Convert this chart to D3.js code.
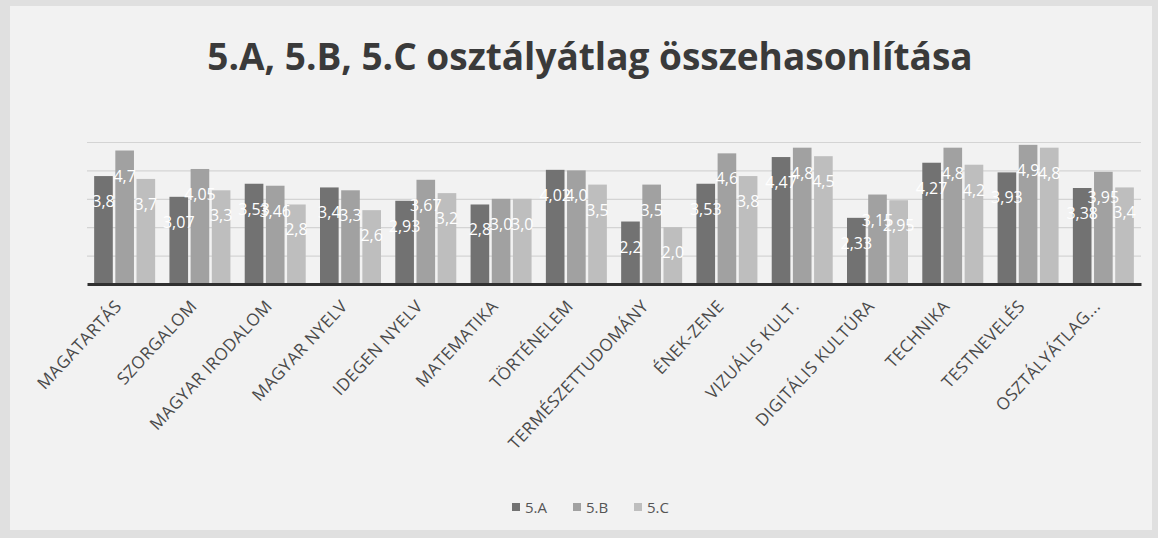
<!DOCTYPE html>
<html>
  <head>
    <meta charset="utf-8">
    <title>5.A, 5.B, 5.C osztályátlag összehasonlítása</title>
    <script src="https://d3js.org/d3.v7.min.js"></script>
    <style>
      body { margin: 0; background: #e0e0e0; }
      svg { display: block; }
      text { font-family: "Open Sans", "Noto Sans", sans-serif; }
    </style>
  </head>
  <body>
    <svg></svg>
    <script>
      // data
      const subjects = ['MAGATARTÁS', 'SZORGALOM', 'MAGYAR IRODALOM', 'MAGYAR NYELV', 'IDEGEN NYELV',
        'MATEMATIKA', 'TÖRTÉNELEM', 'TERMÉSZETTUDOMÁNY', 'ÉNEK-ZENE', 'VIZUÁLIS KULT.',
        'DIGITÁLIS KULTÚRA', 'TECHNIKA', 'TESTNEVELÉS', 'OSZTÁLYÁTLAG...'];
      const classes = ['5.A', '5.B', '5.C'];
      const avg5A = [3.8, 3.07, 3.53, 3.4, 2.93, 2.8, 4.02, 2.2, 3.53, 4.47, 2.33, 4.27, 3.93, 3.38];
      const avg5B = [4.7, 4.05, 3.46, 3.3, 3.67, 3.0, 4.0, 3.5, 4.6, 4.8, 3.15, 4.8, 4.9, 3.95];
      const avg5C = [3.7, 3.3, 2.8, 2.6, 3.2, 3.0, 3.5, 2.0, 3.8, 4.5, 2.95, 4.2, 4.8, 3.4];
      const yTicks = [1, 2, 3, 4, 5];
      const title = '5.A, 5.B, 5.C osztályátlag összehasonlítása';

      const series = [avg5A, avg5B, avg5C];
      const colors = ['#727272', '#a1a1a1', '#bebebe'];

      const width = 1158, height = 538;
      const svg = d3.select('svg').attr('width', width).attr('height', height);

      // scanned page look
      svg.append('rect').attr('width', width).attr('height', height).attr('fill', '#e0e0e0');
      svg.append('rect')
        .attr('x', 10).attr('y', 6).attr('width', width - 16).attr('height', height - 14)
        .attr('fill', '#f2f2f2');

      const margin = { top: 142, right: 17, bottom: 254, left: 87 };
      const innerWidth = width - margin.left - margin.right;
      const innerHeight = height - margin.top - margin.bottom;

      const g = svg.append('g')
        .attr('transform', `translate(${margin.left},${margin.top})`);

      const x0 = d3.scaleBand()
        .domain(subjects)
        .range([0, innerWidth])
        .paddingInner(0.19)
        .paddingOuter(0.095);

      const x1 = d3.scaleBand()
        .domain(classes)
        .range([0, x0.bandwidth()])
        .paddingInner(0.12);

      const y = d3.scaleLinear()
        .domain([0, 5])
        .range([innerHeight, 0]);

      // gridlines
      const yAxis = d3.axisLeft(y).tickValues(yTicks).tickSize(-innerWidth).tickFormat('');
      const yAxisG = g.append('g').call(yAxis);
      yAxisG.select('.domain').remove();
      yAxisG.selectAll('.tick line').attr('stroke', '#d4d4d4').attr('stroke-width', 1.2);

      const fmt = v => {
        const oneDec = Math.abs(v * 10 - Math.round(v * 10)) < 1e-9;
        return (oneDec ? v.toFixed(1) : v.toFixed(2)).replace('.', ',');
      };

      const rows = subjects.map((s, i) => ({
        subject: s,
        values: classes.map((c, k) => ({ cls: c, k: k, value: series[k][i] }))
      }));

      const groups = g.selectAll('.group').data(rows)
        .enter().append('g')
          .attr('class', 'group')
          .attr('transform', d => `translate(${x0(d.subject)},0)`);

      groups.selectAll('rect').data(d => d.values)
        .enter().append('rect')
          .attr('x', d => x1(d.cls))
          .attr('y', d => y(d.value))
          .attr('width', x1.bandwidth())
          .attr('height', d => innerHeight - y(d.value))
          .attr('fill', d => colors[d.k]);

      // data labels, white, inside the bars
      groups.selectAll('.lbl').data(d => d.values)
        .enter().append('text')
          .attr('class', 'lbl')
          .attr('x', d => x1(d.cls) + x1.bandwidth() / 2)
          .attr('y', d => y(d.value) + 31)
          .attr('text-anchor', 'middle')
          .attr('fill', '#ffffff')
          .attr('font-size', 16)
          .text(d => fmt(d.value));

      // x axis
      const xAxis = d3.axisBottom(x0).tickSize(0).tickPadding(0);
      const xAxisG = g.append('g')
        .attr('transform', `translate(0,${innerHeight})`)
        .call(xAxis);
      xAxisG.select('.domain').attr('stroke', '#303030').attr('stroke-width', 3);
      xAxisG.selectAll('.tick text')
        .attr('font-size', 17)
        .attr('letter-spacing', 0.5)
        .attr('fill', '#4a4a4a')
        .attr('text-anchor', 'end')
        .attr('dy', 0)
        .attr('transform', 'translate(-2,23) rotate(-47)');

      // title
      svg.append('text')
        .attr('x', 590)
        .attr('y', 70)
        .attr('text-anchor', 'middle')
        .attr('font-size', 37)
        .attr('font-weight', 'bold')
        .attr('fill', '#3a3a3a')
        .text(title);

      // legend
      const legend = svg.append('g').attr('transform', 'translate(512,507)');
      const item = legend.selectAll('g').data(classes)
        .enter().append('g')
          .attr('transform', (d, i) => `translate(${i * 61},0)`);
      item.append('rect')
        .attr('x', 0).attr('y', -4).attr('width', 8).attr('height', 8)
        .attr('fill', (d, i) => colors[i]);
      item.append('text')
        .attr('x', 13).attr('y', 6)
        .attr('font-size', 15)
        .attr('fill', '#555')
        .text(d => d);
    </script>
  </body>
</html>
